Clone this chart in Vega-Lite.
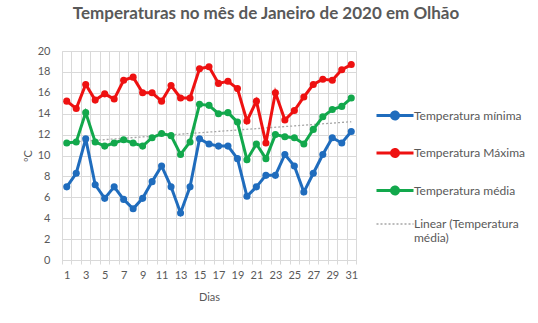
{
  "$schema": "https://vega.github.io/schema/vega-lite/v6.json",
  "width": 294,
  "height": 209,
  "autosize": "none",
  "padding": {"left": 62, "top": 51, "right": 182, "bottom": 63},
  "background": "white",
  "title": {
    "text": "Temperaturas no mês de Janeiro de 2020 em Olhão",
    "anchor": "middle",
    "frame": "group",
    "dx": 57,
    "offset": 22,
    "font": "Lato",
    "fontSize": 17,
    "fontWeight": "bold",
    "color": "#595959"
  },
  "data": {
    "values": [
      {"dia":1,"serie":"Temperatura mínima","temp":7.0},
      {"dia":2,"serie":"Temperatura mínima","temp":8.3},
      {"dia":3,"serie":"Temperatura mínima","temp":11.6},
      {"dia":4,"serie":"Temperatura mínima","temp":7.2},
      {"dia":5,"serie":"Temperatura mínima","temp":5.9},
      {"dia":6,"serie":"Temperatura mínima","temp":7.0},
      {"dia":7,"serie":"Temperatura mínima","temp":5.8},
      {"dia":8,"serie":"Temperatura mínima","temp":4.9},
      {"dia":9,"serie":"Temperatura mínima","temp":5.9},
      {"dia":10,"serie":"Temperatura mínima","temp":7.5},
      {"dia":11,"serie":"Temperatura mínima","temp":9.0},
      {"dia":12,"serie":"Temperatura mínima","temp":7.0},
      {"dia":13,"serie":"Temperatura mínima","temp":4.5},
      {"dia":14,"serie":"Temperatura mínima","temp":7.0},
      {"dia":15,"serie":"Temperatura mínima","temp":11.6},
      {"dia":16,"serie":"Temperatura mínima","temp":11.1},
      {"dia":17,"serie":"Temperatura mínima","temp":10.9},
      {"dia":18,"serie":"Temperatura mínima","temp":10.9},
      {"dia":19,"serie":"Temperatura mínima","temp":9.7},
      {"dia":20,"serie":"Temperatura mínima","temp":6.1},
      {"dia":21,"serie":"Temperatura mínima","temp":7.0},
      {"dia":22,"serie":"Temperatura mínima","temp":8.1},
      {"dia":23,"serie":"Temperatura mínima","temp":8.1},
      {"dia":24,"serie":"Temperatura mínima","temp":10.1},
      {"dia":25,"serie":"Temperatura mínima","temp":9.0},
      {"dia":26,"serie":"Temperatura mínima","temp":6.5},
      {"dia":27,"serie":"Temperatura mínima","temp":8.3},
      {"dia":28,"serie":"Temperatura mínima","temp":10.1},
      {"dia":29,"serie":"Temperatura mínima","temp":11.7},
      {"dia":30,"serie":"Temperatura mínima","temp":11.2},
      {"dia":31,"serie":"Temperatura mínima","temp":12.3},
      {"dia":1,"serie":"Temperatura Máxima","temp":15.2},
      {"dia":2,"serie":"Temperatura Máxima","temp":14.5},
      {"dia":3,"serie":"Temperatura Máxima","temp":16.8},
      {"dia":4,"serie":"Temperatura Máxima","temp":15.3},
      {"dia":5,"serie":"Temperatura Máxima","temp":15.9},
      {"dia":6,"serie":"Temperatura Máxima","temp":15.4},
      {"dia":7,"serie":"Temperatura Máxima","temp":17.2},
      {"dia":8,"serie":"Temperatura Máxima","temp":17.5},
      {"dia":9,"serie":"Temperatura Máxima","temp":16.0},
      {"dia":10,"serie":"Temperatura Máxima","temp":16.0},
      {"dia":11,"serie":"Temperatura Máxima","temp":15.2},
      {"dia":12,"serie":"Temperatura Máxima","temp":16.7},
      {"dia":13,"serie":"Temperatura Máxima","temp":15.5},
      {"dia":14,"serie":"Temperatura Máxima","temp":15.5},
      {"dia":15,"serie":"Temperatura Máxima","temp":18.3},
      {"dia":16,"serie":"Temperatura Máxima","temp":18.5},
      {"dia":17,"serie":"Temperatura Máxima","temp":16.9},
      {"dia":18,"serie":"Temperatura Máxima","temp":17.1},
      {"dia":19,"serie":"Temperatura Máxima","temp":16.4},
      {"dia":20,"serie":"Temperatura Máxima","temp":13.3},
      {"dia":21,"serie":"Temperatura Máxima","temp":15.2},
      {"dia":22,"serie":"Temperatura Máxima","temp":11.2},
      {"dia":23,"serie":"Temperatura Máxima","temp":16.0},
      {"dia":24,"serie":"Temperatura Máxima","temp":13.4},
      {"dia":25,"serie":"Temperatura Máxima","temp":14.3},
      {"dia":26,"serie":"Temperatura Máxima","temp":15.6},
      {"dia":27,"serie":"Temperatura Máxima","temp":16.8},
      {"dia":28,"serie":"Temperatura Máxima","temp":17.3},
      {"dia":29,"serie":"Temperatura Máxima","temp":17.2},
      {"dia":30,"serie":"Temperatura Máxima","temp":18.2},
      {"dia":31,"serie":"Temperatura Máxima","temp":18.7},
      {"dia":1,"serie":"Temperatura média","temp":11.2},
      {"dia":2,"serie":"Temperatura média","temp":11.3},
      {"dia":3,"serie":"Temperatura média","temp":14.1},
      {"dia":4,"serie":"Temperatura média","temp":11.3},
      {"dia":5,"serie":"Temperatura média","temp":10.9},
      {"dia":6,"serie":"Temperatura média","temp":11.2},
      {"dia":7,"serie":"Temperatura média","temp":11.5},
      {"dia":8,"serie":"Temperatura média","temp":11.2},
      {"dia":9,"serie":"Temperatura média","temp":10.9},
      {"dia":10,"serie":"Temperatura média","temp":11.7},
      {"dia":11,"serie":"Temperatura média","temp":12.1},
      {"dia":12,"serie":"Temperatura média","temp":11.9},
      {"dia":13,"serie":"Temperatura média","temp":10.1},
      {"dia":14,"serie":"Temperatura média","temp":11.3},
      {"dia":15,"serie":"Temperatura média","temp":14.9},
      {"dia":16,"serie":"Temperatura média","temp":14.8},
      {"dia":17,"serie":"Temperatura média","temp":14.0},
      {"dia":18,"serie":"Temperatura média","temp":14.1},
      {"dia":19,"serie":"Temperatura média","temp":13.2},
      {"dia":20,"serie":"Temperatura média","temp":9.6},
      {"dia":21,"serie":"Temperatura média","temp":11.1},
      {"dia":22,"serie":"Temperatura média","temp":9.7},
      {"dia":23,"serie":"Temperatura média","temp":12.0},
      {"dia":24,"serie":"Temperatura média","temp":11.8},
      {"dia":25,"serie":"Temperatura média","temp":11.7},
      {"dia":26,"serie":"Temperatura média","temp":11.1},
      {"dia":27,"serie":"Temperatura média","temp":12.5},
      {"dia":28,"serie":"Temperatura média","temp":13.7},
      {"dia":29,"serie":"Temperatura média","temp":14.4},
      {"dia":30,"serie":"Temperatura média","temp":14.7},
      {"dia":31,"serie":"Temperatura média","temp":15.5}
    ]
  },
  "encoding": {
    "x": {
      "field": "dia",
      "type": "ordinal",
      "bandPosition": 0.5,
      "scale": {"type": "band", "paddingInner": 0, "paddingOuter": 0},
      "title": "Dias",
      "axis": {
        "labelAngle": 0,
        "labelExpr": "datum.value % 2 == 1 ? datum.label : ''",
        "tickBand": "extent",
        "ticks": true,
        "tickSize": 4,
        "tickColor": "#d9d9d9",
        "domainColor": "#d9d9d9",
        "gridColor": "#d9d9d9",
        "grid": true,
        "labelPadding": 5,
        "labelFont": "Lato",
        "labelFontSize": 11,
        "labelColor": "#595959",
        "titleFont": "Lato",
        "titleFontSize": 11,
        "titleFontWeight": "normal",
        "titleColor": "#595959",
        "titlePadding": 11
      }
    },
    "y": {
      "field": "temp",
      "type": "quantitative",
      "title": "ºC",
      "scale": {"domain": [0, 20], "nice": false},
      "axis": {
        "values": [0, 2, 4, 6, 8, 10, 12, 14, 16, 18, 20],
        "ticks": false,
        "domain": false,
        "gridColor": "#d9d9d9",
        "labelPadding": 12,
        "labelFont": "Lato",
        "labelFontSize": 11,
        "labelColor": "#595959",
        "titleFont": "Lato",
        "titleFontSize": 11,
        "titleFontWeight": "normal",
        "titleColor": "#595959",
        "titlePadding": 4
      }
    }
  },
  "layer": [
    {
      "transform": [
        {"filter": "datum.serie == 'Temperatura média'"},
        {"regression": "temp", "on": "dia"}
      ],
      "mark": {"type": "line", "strokeDash": [2, 2], "strokeWidth": 1.3},
      "encoding": {
        "color": {"datum": "Linear (Temperatura média)"}
      }
    },
    {
      "mark": {"type": "line", "strokeWidth": 3, "point": {"filled": true, "size": 50}},
      "encoding": {
        "color": {
          "field": "serie",
          "type": "nominal",
          "scale": {
            "domain": ["Temperatura mínima", "Temperatura Máxima", "Temperatura média", "Linear (Temperatura média)"],
            "range": ["#1f6cbd", "#ee1111", "#12a84c", "#a6a6a6"]
          },
          "legend": {
            "title": null,
            "orient": "none",
            "legendX": 315,
            "legendY": 58.5,
            "symbolType": "M-1,0H1M-0.19,0A0.19,0.19,0,1,1,0.19,0A0.19,0.19,0,1,1,-0.19,0Z",
            "symbolSize": 1369,
            "symbolStrokeWidth": 3,
            "symbolOffset": 12,
            "rowPadding": 17.5,
            "labelOffset": 13,
            "labelFont": "Lato",
            "labelFontSize": 12,
            "labelColor": "#595959",
            "labelLimit": 200,
            "labelExpr": "datum.label == 'Linear (Temperatura média)' ? ['Linear (Temperatura', 'média)'] : datum.label",
            "encode": {
              "symbols": {
                "update": {
                  "shape": {"signal": "datum.value == 'Linear (Temperatura média)' ? 'M-1,0H1' : 'M-1,0H1M-0.19,0A0.19,0.19,0,1,1,0.19,0A0.19,0.19,0,1,1,-0.19,0Z'"},
                  "fill": {"signal": "datum.value == 'Linear (Temperatura média)' ? 'transparent' : scale('color', datum.value)"},
                  "strokeDash": {"signal": "datum.value == 'Linear (Temperatura média)' ? [2, 2] : [1, 0]"},
                  "strokeWidth": {"signal": "datum.value == 'Linear (Temperatura média)' ? 1.3 : 3"}
                }
              }
            }
          }
        }
      }
    }
  ]
}
